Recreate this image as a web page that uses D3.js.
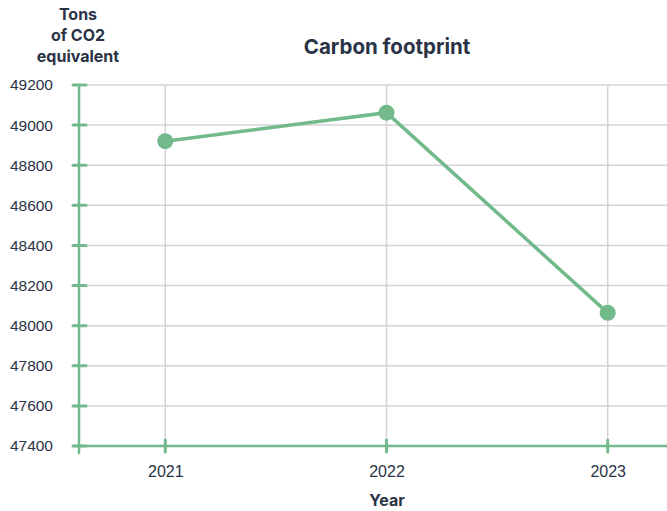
<!DOCTYPE html>
<html>
<head>
<meta charset="utf-8">
<script src="https://cdn.jsdelivr.net/npm/d3@7"></script>
<style>
  body { margin: 0; background: #fff; }
  svg { display: block; font-family: Inter, "Liberation Sans", sans-serif; }
</style>
</head>
<body>
<div class="chart"></div>
<script>
const years = ['2021', '2022', '2023']
const emissions = [48920, 49062, 48064]
const yTicks = [47400, 47600, 47800, 48000, 48200, 48400, 48600, 48800, 49000, 49200]

let w = 667,
    h = 511

const green = '#72b98b'
const grid = '#d4d4d8'
const ink = '#2a3346'

const svg = d3.select('.chart')
              .append('svg')
              .attr('width', w)
              .attr('height', h)

const plotLeft = 79, plotTop = 85, plotBottom = 446

const x = d3.scalePoint()
            .domain(years)
            .range([plotLeft, 694])
            .padding(0.39)

const y = d3.scaleLinear()
            .domain([47400, 49200])
            .range([plotBottom, plotTop])

// grid
svg.append('g')
   .selectAll('line')
   .data(yTicks)
   .enter()
   .append('line')
   .attr('x1', plotLeft)
   .attr('x2', w)
   .attr('y1', d => y(d))
   .attr('y2', d => y(d))
   .attr('stroke', grid)
   .attr('stroke-width', 1.5)

svg.append('g')
   .selectAll('line')
   .data(years)
   .enter()
   .append('line')
   .attr('x1', d => x(d))
   .attr('x2', d => x(d))
   .attr('y1', plotTop)
   .attr('y2', plotBottom)
   .attr('stroke', grid)
   .attr('stroke-width', 1.5)

// axes
const yAxis = svg.append('g')
                 .attr('transform', `translate(${plotLeft},0)`)
                 .call(d3.axisLeft(y).tickValues(yTicks).tickSize(0).tickPadding(26).tickFormat(d3.format('d')))
yAxis.select('.domain').remove()
yAxis.selectAll('text')
     .attr('fill', ink)
     .style('font-size', '15.5px')

svg.append('g')
   .selectAll('line')
   .data(yTicks)
   .enter()
   .append('line')
   .attr('x1', plotLeft - 6)
   .attr('x2', plotLeft + 7)
   .attr('y1', d => y(d))
   .attr('y2', d => y(d))
   .attr('stroke', green)
   .attr('stroke-width', 3)
   .attr('stroke-linecap', 'round')

svg.append('line')
   .attr('x1', plotLeft).attr('x2', plotLeft)
   .attr('y1', plotTop).attr('y2', plotBottom + 7)
   .attr('stroke', green)
   .attr('stroke-width', 2.5)
   .attr('stroke-linecap', 'round')

svg.append('line')
   .attr('x1', plotLeft).attr('x2', w)
   .attr('y1', plotBottom).attr('y2', plotBottom)
   .attr('stroke', green)
   .attr('stroke-width', 2.5)

const xAxis = svg.append('g')
                 .attr('transform', `translate(0,${plotBottom})`)
                 .call(d3.axisBottom(x).tickSize(0).tickPadding(20))
xAxis.select('.domain').remove()
xAxis.selectAll('text')
     .attr('fill', ink)
     .style('font-size', '16px')

svg.append('g')
   .selectAll('line')
   .data(years)
   .enter()
   .append('line')
   .attr('x1', d => x(d))
   .attr('x2', d => x(d))
   .attr('y1', plotBottom - 6)
   .attr('y2', plotBottom + 6)
   .attr('stroke', green)
   .attr('stroke-width', 3)
   .attr('stroke-linecap', 'round')

// series
const line = d3.line()
               .x((d, i) => x(years[i]))
               .y(d => y(d))

svg.append('path')
   .datum(emissions)
   .attr('d', line)
   .attr('fill', 'none')
   .attr('stroke', green)
   .attr('stroke-width', 3.5)

svg.selectAll('circle')
   .data(emissions)
   .enter()
   .append('circle')
   .attr('cx', (d, i) => x(years[i]))
   .attr('cy', d => y(d))
   .attr('r', 8)
   .attr('fill', green)

// titles
svg.append('text')
   .attr('x', 387)
   .attr('y', 54)
   .attr('text-anchor', 'middle')
   .attr('fill', ink)
   .style('font-size', '20.5px')
   .style('font-weight', 'bold')
   .text('Carbon footprint')

const yTitle = ['Tons', 'of CO2', 'equivalent']
svg.append('text')
   .attr('text-anchor', 'middle')
   .attr('fill', ink)
   .style('font-size', '16px')
   .style('font-weight', 'bold')
   .selectAll('tspan')
   .data(yTitle)
   .enter()
   .append('tspan')
   .attr('x', 78)
   .attr('y', (d, i) => 20 + i * 21)
   .text(d => d)

svg.append('text')
   .attr('x', 387)
   .attr('y', 506)
   .attr('text-anchor', 'middle')
   .attr('fill', ink)
   .style('font-size', '16px')
   .style('font-weight', 'bold')
   .text('Year')
</script>
</body>
</html>
